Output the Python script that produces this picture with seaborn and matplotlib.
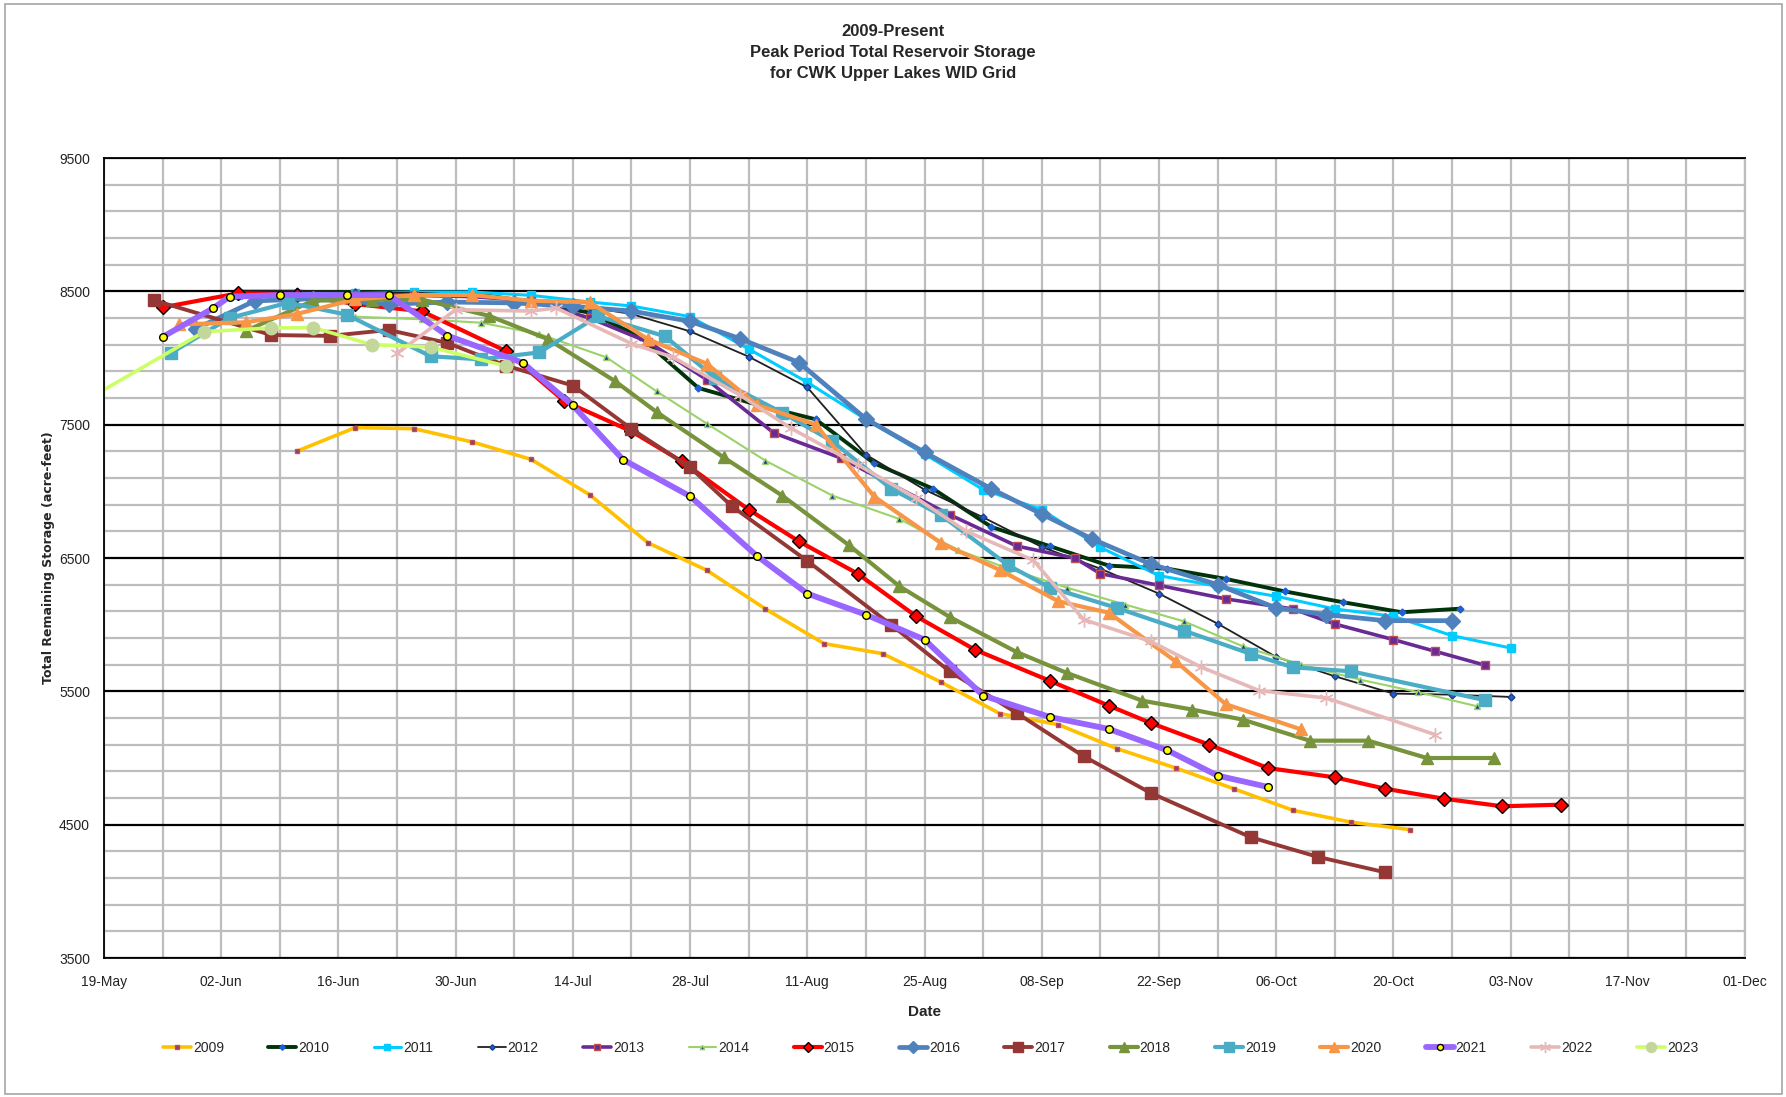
import pandas as pd
import numpy as np
import matplotlib
matplotlib.use("Agg")
import matplotlib.pyplot as plt
import matplotlib.dates as mdates
from matplotlib import font_manager
from matplotlib.patches import Rectangle
import seaborn as sns

# ---- data (month-day, storage in acre-feet) ----
dates_2009 = ["06-11", "06-18", "06-25", "07-02", "07-09", "07-16", "07-23", "07-30", "08-06", "08-13",
              "08-20", "08-27", "09-03", "09-10", "09-17", "09-24", "10-01", "10-08", "10-15", "10-22"]
storage_2009 = [7300, 7478, 7470, 7370, 7240, 6975, 6613, 6408, 6118, 5858,
                5783, 5568, 5333, 5250, 5070, 4925, 4768, 4608, 4518, 4463]

dates_2010 = ["06-04", "06-11", "06-18", "06-25", "07-02", "07-09", "07-16", "07-22", "07-29", "08-05", "08-12",
              "08-19", "08-26", "09-02", "09-09", "09-16", "09-23", "09-30", "10-07", "10-14", "10-21", "10-28"]
storage_2010 = [8490, 8495, 8495, 8490, 8485, 8420, 8340, 8160, 7775, 7650, 7540,
                7210, 7020, 6733, 6588, 6443, 6420, 6343, 6250, 6168, 6093, 6120]

dates_2011 = ["06-04", "06-11", "06-18", "06-25", "07-02", "07-09", "07-16", "07-21", "07-28", "08-04", "08-11", "08-18",
              "08-25", "09-01", "09-08", "09-15", "09-22", "09-29", "10-06", "10-13", "10-20", "10-27", "11-03"]
storage_2011 = [8470, 8480, 8490, 8495, 8495, 8470, 8420, 8390, 8310, 8068, 7818, 7540,
                7280, 7013, 6863, 6580, 6368, 6288, 6213, 6118, 6063, 5918, 5825]

dates_2012 = ["06-04", "06-11", "06-18", "06-25", "07-02", "07-09", "07-16", "07-21", "07-28", "08-04", "08-11", "08-18",
              "08-25", "09-01", "09-08", "09-15", "09-22", "09-29", "10-06", "10-13", "10-20", "10-27", "11-03"]
storage_2012 = [8505, 8505, 8495, 8490, 8470, 8430, 8380, 8330, 8200, 8010, 7780, 7275,
                7013, 6805, 6583, 6420, 6233, 6008, 5758, 5613, 5483, 5475, 5458]

dates_2013 = ["06-04", "06-11", "06-18", "06-25", "07-02", "07-09", "07-16", "07-23", "07-30", "08-07", "08-15",
              "08-28", "09-05", "09-12", "09-15", "09-22", "09-30", "10-08", "10-13", "10-20", "10-25", "10-31"]
storage_2013 = [8480, 8463, 8470, 8470, 8460, 8430, 8300, 8120, 7838, 7438, 7250,
                6825, 6590, 6498, 6383, 6295, 6193, 6118, 6005, 5888, 5800, 5695]

dates_2014 = ["06-18", "06-26", "07-03", "07-10", "07-18", "07-24", "07-30", "08-06", "08-14", "08-22",
              "08-29", "09-04", "09-11", "09-18", "09-25", "10-02", "10-09", "10-16", "10-23", "10-30"]
storage_2014 = [8310, 8290, 8265, 8180, 8005, 7750, 7508, 7230, 6968, 6793,
                6560, 6420, 6278, 6150, 6025, 5838, 5700, 5588, 5493, 5388]

dates_2015 = ["05-26", "06-04", "06-11", "06-18", "06-26", "07-06", "07-13", "07-21", "07-27", "08-04", "08-10", "08-17",
              "08-24", "08-31", "09-09", "09-16", "09-21", "09-28", "10-05", "10-13", "10-19", "10-26", "11-02", "11-09"]
storage_2015 = [8380, 8485, 8475, 8405, 8350, 8052, 7675, 7450, 7225, 6863, 6625, 6383,
                6063, 5813, 5578, 5393, 5263, 5100, 4925, 4855, 4770, 4695, 4638, 4650]

dates_2016 = ["05-30", "06-06", "06-13", "06-22", "06-29", "07-07", "07-14", "07-21", "07-28", "08-03", "08-10",
              "08-18", "08-25", "09-02", "09-08", "09-14", "09-21", "09-29", "10-06", "10-12", "10-19", "10-27"]
storage_2016 = [8220, 8428, 8445, 8403, 8420, 8413, 8388, 8352, 8275, 8144, 7966,
                7543, 7293, 7018, 6830, 6643, 6455, 6300, 6125, 6075, 6030, 6030]

dates_2017 = ["05-25", "06-08", "06-15", "06-22", "06-29", "07-06", "07-14", "07-21", "07-28", "08-02",
              "08-11", "08-21", "08-28", "09-05", "09-13", "09-21", "10-03", "10-11", "10-19"]
storage_2017 = [8432, 8172, 8166, 8210, 8113, 7943, 7793, 7468, 7180, 6888,
                6478, 6000, 5650, 5338, 5013, 4738, 4405, 4258, 4143]

dates_2018 = ["06-05", "06-13", "06-20", "06-26", "07-04", "07-11", "07-19", "07-24", "08-01", "08-08", "08-16",
              "08-22", "08-28", "09-05", "09-11", "09-20", "09-26", "10-02", "10-10", "10-17", "10-24", "11-01"]
storage_2018 = [8205, 8430, 8438, 8438, 8316, 8142, 7828, 7595, 7255, 6968, 6595,
                6288, 6058, 5795, 5638, 5430, 5363, 5288, 5130, 5130, 5000, 5000]

dates_2019 = ["05-27", "06-03", "06-10", "06-17", "06-27", "07-03", "07-10", "07-17", "07-25", "07-31", "08-08",
              "08-14", "08-21", "08-27", "09-04", "09-09", "09-17", "09-25", "10-03", "10-08", "10-15", "10-31"]
storage_2019 = [8038, 8300, 8415, 8325, 8013, 7990, 8042, 8314, 8163, 7850, 7590,
                7375, 7020, 6820, 6445, 6278, 6125, 5955, 5780, 5680, 5650, 5433]

dates_2020 = ["05-28", "06-05", "06-11", "06-18", "06-25", "07-02", "07-09", "07-16", "07-23", "07-30",
              "08-05", "08-12", "08-19", "08-27", "09-03", "09-10", "09-16", "09-24", "09-30", "10-09"]
storage_2020 = [8252, 8268, 8330, 8440, 8472, 8472, 8430, 8418, 8140, 7957,
                7648, 7500, 6960, 6611, 6410, 6175, 6090, 5725, 5403, 5214]

dates_2021 = ["05-26", "06-01", "06-03", "06-09", "06-17", "06-22", "06-29", "07-08", "07-14", "07-20", "07-28",
              "08-05", "08-11", "08-18", "08-25", "09-01", "09-09", "09-16", "09-23", "09-29", "10-05"]
storage_2021 = [8158, 8372, 8460, 8472, 8472, 8472, 8168, 7965, 7644, 7238, 6963,
                6515, 6233, 6075, 5888, 5468, 5307, 5218, 5058, 4868, 4783]

dates_2022 = ["06-23", "06-30", "07-09", "07-12", "07-21", "07-26", "08-03", "08-09", "08-17",
              "08-24", "08-30", "09-07", "09-13", "09-21", "09-27", "10-04", "10-12", "10-25"]
storage_2022 = [8035, 8362, 8352, 8375, 8108, 8004, 7720, 7475, 7200,
                6950, 6700, 6483, 6038, 5875, 5683, 5505, 5450, 5175]

dates_2023 = ["05-19", "05-31", "06-08", "06-13", "06-20", "06-27", "07-06"]
storage_2023 = [7762, 8198, 8225, 8228, 8100, 8082, 7940]

years = ["2009", "2010", "2011", "2012", "2013", "2014", "2015", "2016",
         "2017", "2018", "2019", "2020", "2021", "2022", "2023"]
series_dates = [dates_2009, dates_2010, dates_2011, dates_2012, dates_2013, dates_2014, dates_2015, dates_2016,
                dates_2017, dates_2018, dates_2019, dates_2020, dates_2021, dates_2022, dates_2023]
series_storage = [storage_2009, storage_2010, storage_2011, storage_2012, storage_2013, storage_2014,
                  storage_2015, storage_2016, storage_2017, storage_2018, storage_2019, storage_2020,
                  storage_2021, storage_2022, storage_2023]

# all seasons drawn on one common calendar year
frames = []
for yr, d, s in zip(years, series_dates, series_storage):
    frames.append(pd.DataFrame({"year": yr,
                                "date": pd.to_datetime(["2021-" + x for x in d]),
                                "storage": s}))
df = pd.concat(frames, ignore_index=True)

# ---- look of each season (colour, marker, size, line width) ----
asterisk = (6, 2, 0)
styles = {
    "2009": dict(color="#FFC000", marker="s", ms=3.5, mfc="#7F3F7F", mec="#C0504D", lw=2.6),
    "2010": dict(color="#00330A", marker="D", ms=3.5, mfc="#1F5FD0", mec="#1F5FD0", lw=2.8),
    "2011": dict(color="#00CCFF", marker="s", ms=6, mfc="#00CCFF", mec="#00CCFF", lw=2.2),
    "2012": dict(color="#202020", marker="D", ms=3.5, mfc="#1F5FD0", mec="#1F3F80", lw=1.3),
    "2013": dict(color="#6A2A96", marker="s", ms=5.5, mfc="#6A2A96", mec="#C0504D", lw=2.6),
    "2014": dict(color="#9BD36A", marker="^", ms=4, mfc="#1F3A93", mec="#9BD36A", lw=1.5),
    "2015": dict(color="#FF0000", marker="D", ms=7, mfc="#FF0000", mec="#000000", lw=3.0),
    "2016": dict(color="#4F81BD", marker="D", ms=8, mfc="#4F81BD", mec="#4F81BD", lw=3.4),
    "2017": dict(color="#953735", marker="s", ms=9, mfc="#953735", mec="#953735", lw=2.8),
    "2018": dict(color="#77933C", marker="^", ms=9, mfc="#77933C", mec="#77933C", lw=3.0),
    "2019": dict(color="#4BACC6", marker="s", ms=9, mfc="#4BACC6", mec="#4BACC6", lw=3.0),
    "2020": dict(color="#F79646", marker="^", ms=9, mfc="#F79646", mec="#F79646", lw=3.0),
    "2021": dict(color="#9966FF", marker="o", ms=5.5, mfc="#FFFF00", mec="#000000", lw=4.2),
    "2022": dict(color="#E6B9B8", marker=asterisk, ms=10, mfc="#E6B9B8", mec="#E6B9B8", lw=2.6),
    "2023": dict(color="#CCFF66", marker="o", ms=9, mfc="#C4D79B", mec="#C4D79B", lw=2.6),
}

sns.set_theme(style="white")
installed = {f.name for f in font_manager.fontManager.ttflist}
base_font = "Liberation Sans"
for cand in ["Liberation Sans Narrow", "DejaVu Sans Condensed"]:
    if cand in installed:
        base_font = cand
        break
plt.rcParams["font.family"] = [base_font, "DejaVu Sans"]

fig = plt.figure(figsize=(17.86, 10.97), dpi=100)
ax = fig.add_axes([104 / 1786, 1 - 958 / 1097, (1745 - 104) / 1786, (958 - 158) / 1097])

for yr in years:
    st = styles[yr]
    sub = df[df["year"] == yr]
    extra = {}
    if yr == "2023":
        # line enters from the left edge without a marker there
        extra["markevery"] = list(range(1, len(sub)))
    sns.lineplot(data=sub, x="date", y="storage", ax=ax, sort=False, estimator=None,
                 color=st["color"], lw=st["lw"], marker=st["marker"], markersize=st["ms"],
                 markerfacecolor=st["mfc"], markeredgecolor=st["mec"], markeredgewidth=1.0,
                 label=yr, **extra)

# axes, ticks and grid like the spreadsheet chart
start = pd.Timestamp("2021-05-19")
end = pd.Timestamp("2021-12-01")
ax.set_xlim(start, end)
ax.set_ylim(3500, 9500)
ax.set_xticks(pd.date_range(start, end, freq="14D"))
ax.set_xticks(pd.date_range(start, end, freq="7D"), minor=True)
ax.xaxis.set_major_formatter(mdates.DateFormatter("%d-%b"))
ax.set_yticks(np.arange(3500, 9501, 1000))
ax.set_yticks(np.arange(3500, 9501, 200), minor=True)

ax.grid(True, which="both", axis="x", color="#BDBDBD", lw=1.6)
ax.grid(True, which="minor", axis="y", color="#BDBDBD", lw=1.6)
ax.grid(True, which="major", axis="y", color="#000000", lw=1.6)
ax.set_axisbelow(True)
ax.tick_params(axis="both", which="both", length=0, labelsize=10, colors="#222222")
ax.tick_params(axis="x", pad=12)
ax.tick_params(axis="y", pad=10)

for side in ["left", "bottom", "top"]:
    ax.spines[side].set_color("#000000")
    ax.spines[side].set_linewidth(1.3)
ax.spines["right"].set_color("#BDBDBD")
ax.spines["right"].set_linewidth(1.6)

ax.set_xlabel("Date", fontsize=11, fontweight="bold", labelpad=12)
ax.set_ylabel("Total Remaining Storage (acre-feet)", fontsize=9, fontweight="bold",
              family=["Verdana", "DejaVu Sans"], labelpad=3)

fig.text(0.5, 1 - 24 / 1097, "2009-Present\nPeak Period Total Reservoir Storage\nfor CWK Upper Lakes WID Grid",
         ha="center", va="top", fontsize=12, fontweight="bold", linespacing=1.5)

handles, labels = ax.get_legend_handles_labels()
if ax.get_legend() is not None:
    ax.get_legend().remove()
fig.legend(handles, labels, loc="center", bbox_to_anchor=(0.521, 1 - 1048 / 1097), ncol=15,
           frameon=False, fontsize=10, handlelength=2.0, handletextpad=0.15,
           columnspacing=3.2, markerscale=0.8)

# thin outer border of the chart area
fig.patches.append(Rectangle((0.003, 0.003), 0.995, 0.993, transform=fig.transFigure,
                             fill=False, edgecolor="#A6A6A6", lw=1.2))

fig.savefig("out.png", dpi=100, facecolor="white")
